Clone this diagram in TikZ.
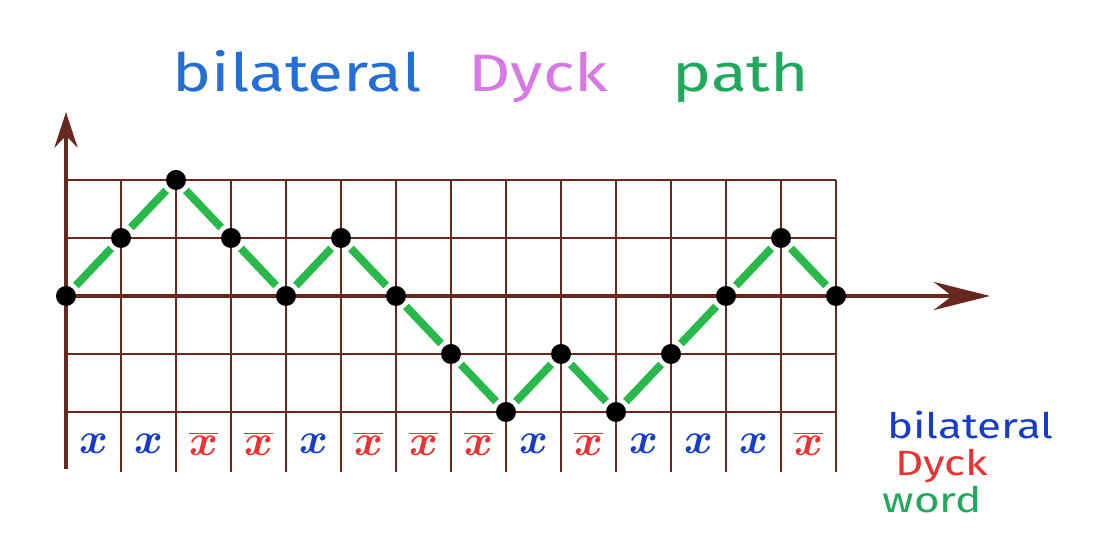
\documentclass[tikz,border=0pt]{standalone}
\usepackage{fontspec}
\setmainfont[FakeStretch=1.25]{Fira Sans}
\usetikzlibrary{
    arrows.meta,
    positioning
}

\definecolor{axisbrown}{RGB}{105,40,30}
\definecolor{titleblue}{RGB}{35,110,215}
\definecolor{titlepink}{RGB}{215,120,230}
\definecolor{titlegreen}{RGB}{30,170,90}
\definecolor{letterblue}{RGB}{20,60,205}
\definecolor{letterred}{RGB}{235,50,50}
\definecolor{pathgreen}{RGB}{40,185,75}

\newcommand{\upx}{\textcolor{letterblue}{$x$}}
\newcommand{\downx}{\textcolor{letterred}{$\overline{x}$}}

\tikzset{
    gridline/.style={axisbrown, line width=1.5pt},
    axisline/.style={axisbrown, line width=2.8pt},
    dot/.style={circle, fill=black, minimum size=0.4cm, inner sep=0pt, outer sep=2.5pt},
    pathstep/.style={pathgreen, line width=4.5pt},
    letter/.style={font=\fontsize{30}{32}\selectfont\boldmath, inner sep=0pt},
    title/.style={font=\fontsize{30}{36}\selectfont, anchor=base west, inner sep=0pt},
    legend/.style={font=\fontsize{20}{24}\selectfont, anchor=base west, inner sep=0pt}
}

\begin{document}
\begin{tikzpicture}[x=1.1cm,y=1.16cm]
\useasboundingbox (-1.32cm,-4.74cm) rectangle (20.72cm,5.92cm);

% Title
\node[title, text=titleblue] (tbil) at (1.93,3.52) {bilateral};
\node[title, text=titlepink] (tdyck) at (7.31,3.52) {Dyck};
\node[title, text=titlegreen] (tpath) at (11.02,3.52) {path};

% Grid
\foreach \y in {-2,-1,1,2}
    \draw[gridline] (0,\y) -- (14,\y);
\foreach \x in {1,...,14}
    \draw[gridline] (\x,2) -- (\x,-3.03);

% Axes
\draw[axisline, -{Stealth[length=20pt,width=13pt]}] (0,-2.98) -- (0,3.17);
\draw[axisline, -{Stealth[length=32pt,width=16pt]}] (0,0) -- (16.8,0);

% Path points
\foreach \h [count=\i from 0] in {0,1,2,1,0,1,0,-1,-2,-1,-2,-1,0,1,0}
    \node[dot] (p\i) at (\i,\h) {};

% Steps of the path
\foreach \i [remember=\i as \j (initially 0)] in {1,...,14}
    \draw[pathstep] (p\j) -- (p\i);

% Word under the path
\foreach \w [count=\i] in {\upx,\upx,\downx,\downx,\upx,\downx,\downx,\downx,\upx,\downx,\upx,\upx,\upx,\downx}
    \node[letter] (w\i) at (\i-0.5,-2.55) {\w};

% Legend
\node[legend, text=letterblue] (lbil) at (14.93,-2.46) {bilateral};
\node[legend, text=letterred] (ldyck) at (15.07,-3.1) {Dyck};
\node[legend, text=titlegreen] (lword) at (14.84,-3.74) {word};

\end{tikzpicture}
\end{document}
